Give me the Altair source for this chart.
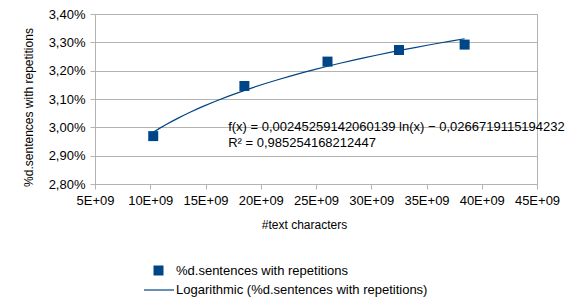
import altair as alt
import pandas as pd

# Data
chars = [1.027e10, 1.852e10, 2.604e10, 3.251e10, 3.845e10]
share = [0.02969, 0.03146, 0.03232, 0.03273, 0.03292]

x_ticks = [5e9, 10e9, 15e9, 20e9, 25e9, 30e9, 35e9, 40e9, 45e9]
y_ticks = [0.028, 0.029, 0.030, 0.031, 0.032, 0.033, 0.034]

series_name = "%d.sentences with repetitions"
trend_name = "Logarithmic (%d.sentences with repetitions)"

anno_text = [
    "f(x) = 0,00245259142060139 ln(x) − 0,0266719115194232",
    "R² = 0,985254168212447",
]
anno_x = [1.705e10, 1.705e10]
anno_y = [0.030012, 0.029447]

BLUE = "#004586"
GRID = "#b3b3b3"
FONT = "Liberation Sans"

df = pd.DataFrame({"x": chars, "y": share, "series": [series_name] * len(chars)})
anno = pd.DataFrame({"x": anno_x, "y": anno_y, "t": anno_text})

x_scale = alt.Scale(domain=[5e9, 45e9], nice=False, zero=False)
y_scale = alt.Scale(domain=[0.028, 0.034], nice=False, zero=False)

x_axis = alt.Axis(
    values=x_ticks,
    tickCount=20,
    labelExpr="datum.value/1e9 + 'E+09'",
    title="#text characters",
    grid=False,
    tickSize=5,
    labelPadding=5,
    labelOverlap=False,
    labelFlush=False,
    titleX=209,
    titleY=40,
    titleBaseline="middle",
)
y_axis = alt.Axis(
    values=y_ticks,
    tickCount=20,
    labelExpr="replace(format(datum.value, '.2%'), '.', ',')",
    title="%d.sentences with repetitions",
    grid=True,
    tickSize=5,
    labelPadding=5,
    labelOverlap=False,
    labelFlush=False,
    titleX=-67,
    titleY=93,
    titleAngle=270,
    titleAlign="center",
    titleBaseline="middle",
)

legend_common = dict(
    title=None,
    orient="none",
    labelFontSize=13,
    labelFont=FONT,
    labelColor="#000000",
    labelLimit=0,
    padding=0,
)

base = alt.Chart(df)

points = base.mark_point(shape="square", filled=True, size=100, opacity=1).encode(
    x=alt.X("x:Q", scale=x_scale, axis=x_axis),
    y=alt.Y("y:Q", scale=y_scale, axis=y_axis),
    fill=alt.Fill(
        "series:N",
        scale=alt.Scale(domain=[series_name], range=[BLUE]),
        legend=alt.Legend(
            legendX=57,
            legendY=250,
            symbolType="square",
            symbolSize=100,
            symbolStrokeWidth=0,
            labelOffset=11,
            **legend_common,
        ),
    ),
)

trend = (
    base.transform_regression("x", "y", method="log")
    .transform_calculate(trend="'" + trend_name + "'")
    .mark_line(strokeWidth=1.2)
    .encode(
        x=alt.X("x:Q", scale=x_scale),
        y=alt.Y("y:Q", scale=y_scale),
        stroke=alt.Stroke(
            "trend:N",
            scale=alt.Scale(domain=[trend_name], range=[BLUE]),
            legend=alt.Legend(
                legendX=48,
                legendY=260,
                symbolType="stroke",
                symbolSize=900,
                symbolStrokeWidth=1.2,
                labelOffset=1,
                **legend_common,
            ),
        ),
    )
)

text = alt.Chart(anno).mark_text(
    align="left", baseline="middle", fontSize=13, font=FONT, color="#000000"
).encode(
    x=alt.X("x:Q", scale=x_scale),
    y=alt.Y("y:Q", scale=y_scale),
    text="t:N",
)

chart = (
    alt.layer(trend, points, text)
    .resolve_scale(fill="independent", stroke="independent")
    .properties(
        width=442,
        height=170,
        autosize=alt.AutoSizeParams(type="none"),
        padding={"left": 87, "top": 6, "right": 28, "bottom": 115},
    )
    .configure_view(stroke=GRID, strokeWidth=1)
    .configure_axis(
        domainColor=GRID,
        tickColor=GRID,
        gridColor=GRID,
        labelFont=FONT,
        labelFontSize=13,
        labelColor="#000000",
        titleFont=FONT,
        titleFontSize=12,
        titleFontWeight="normal",
        titleColor="#000000",
    )
)

chart.save("out.html", embed_options={"renderer": "svg", "actions": False})
